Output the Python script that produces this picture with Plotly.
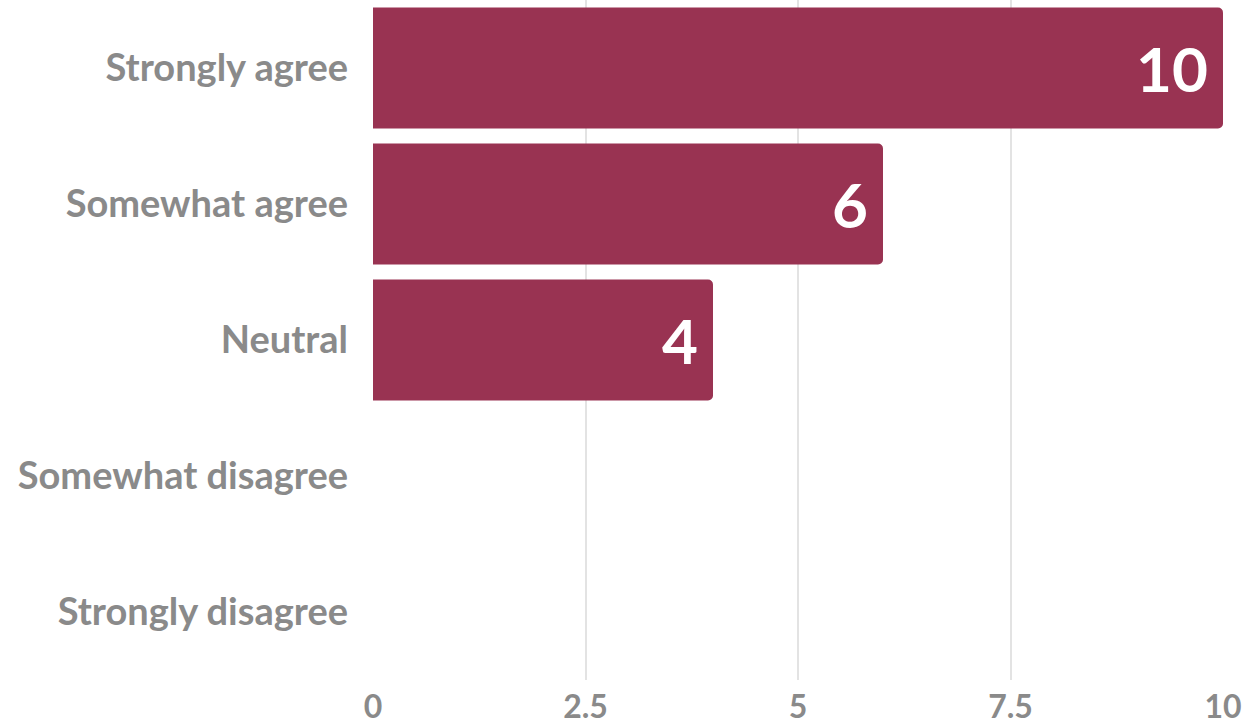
import plotly.graph_objects as go

categories = ["Strongly agree", "Somewhat agree", "Neutral", "Somewhat disagree", "Strongly disagree"]
values = [10, 6, 4, 0, 0]
tick_vals = [0, 2.5, 5, 7.5, 10]
tick_text = ["0", "2.5", "5", "7.5", "10"]

bar_color = "#993352"
gray = "#8a8a8a"
font_family = "Lato"

fig = go.Figure(go.Bar(
    x=values, y=categories, orientation="h",
    marker=dict(color=bar_color, line=dict(width=0)),
    hoverinfo="skip",
))

for c, v in zip(categories, values):
    if v > 0:
        fig.add_annotation(x=v, y=c, text=f"<b>{v}</b>", showarrow=False,
                           xanchor="right", xshift=-13,
                           font=dict(family=font_family, size=62, color="white"))

fig.update_layout(
    width=1245, height=722,
    margin=dict(l=373, r=22, t=0, b=42, autoexpand=False),
    paper_bgcolor="white", plot_bgcolor="white",
    bargap=0.11,
    barcornerradius=5,
    showlegend=False,
    font=dict(family=font_family, color=gray),
    xaxis=dict(range=[0, 10], tickvals=tick_vals, ticktext=tick_text,
               showgrid=True, gridcolor="#e3e3e3", gridwidth=2,
               zeroline=False, showline=False, automargin=False,
               tickfont=dict(family=font_family, size=32, color=gray, weight="bold"),
               ticklabelstandoff=5, fixedrange=True),
    yaxis=dict(categoryorder="array", categoryarray=categories[::-1],
               showgrid=False, zeroline=False, showline=False, automargin=False,
               tickfont=dict(family=font_family, size=38, color=gray, weight="bold"),
               ticklabelstandoff=24, fixedrange=True),
)

fig.write_html("out.html", config={"displayModeBar": False},
               post_script="document.body.style.margin='0';document.body.style.overflow='hidden';")
